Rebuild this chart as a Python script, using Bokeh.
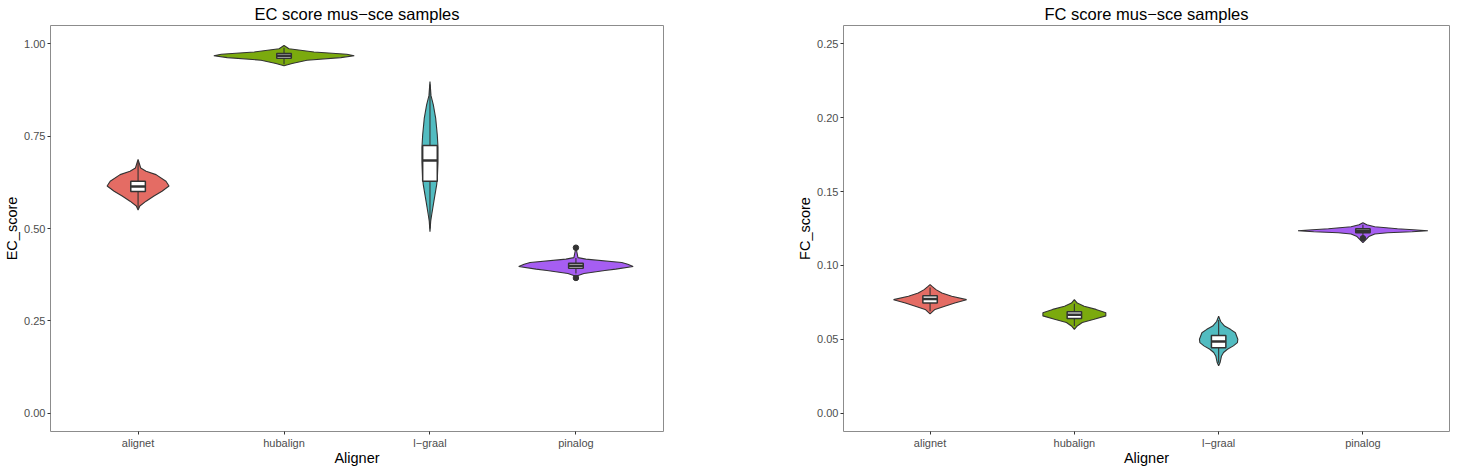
from bokeh.plotting import figure
from bokeh.layouts import row
from bokeh.models import Range1d, FixedTicker, PrintfTickFormatter
from bokeh.embed import file_html
from bokeh.resources import INLINE

# ---------------- data ----------------
categories = ["alignet", "hubalign", "l-graal", "pinalog"]
tick_labels = ["alignet", "hubalign", "l\u2212graal", "pinalog"]
colors = ["#E46C64", "#7BAA0E", "#52BCC1", "#A65EF2"]

# EC score violins: y values and density half-widths (category units)
ec_alignet_y = [0.687, 0.664, 0.655, 0.646, 0.628, 0.615, 0.601, 0.588, 0.574, 0.561, 0.550]
ec_alignet_w = [0.0, 0.018, 0.055, 0.123, 0.191, 0.212, 0.164, 0.109, 0.055, 0.012, 0.0]
ec_hubalign_y = [0.996, 0.987, 0.978, 0.972, 0.968, 0.963, 0.956, 0.947, 0.941]
ec_hubalign_w = [0.0, 0.034, 0.205, 0.430, 0.481, 0.389, 0.157, 0.055, 0.0]
ec_lgraal_y = [0.898, 0.860, 0.835, 0.799, 0.754, 0.720, 0.680, 0.640, 0.619, 0.574, 0.538, 0.520, 0.491]
ec_lgraal_w = [0.0, 0.007, 0.023, 0.039, 0.050, 0.055, 0.055, 0.051, 0.046, 0.027, 0.012, 0.005, 0.0]
ec_pinalog_y = [0.448, 0.435, 0.421, 0.417, 0.408, 0.403, 0.397, 0.390, 0.386, 0.378, 0.372, 0.366]
ec_pinalog_w = [0.0, 0.007, 0.014, 0.068, 0.314, 0.355, 0.392, 0.273, 0.198, 0.055, 0.010, 0.0]

ec_q1 = [0.600, 0.961, 0.628, 0.392]
ec_med = [0.614, 0.968, 0.684, 0.399]
ec_q3 = [0.628, 0.974, 0.725, 0.406]
ec_wlo = [0.555, 0.945, 0.500, 0.378]
ec_whi = [0.680, 0.990, 0.890, 0.420]
ec_out_cat = ["pinalog", "pinalog"]
ec_out_y = [0.448, 0.366]

# FC score violins
fc_alignet_y = [0.0870, 0.0858, 0.0836, 0.0813, 0.0791, 0.0768, 0.0746, 0.0724, 0.0702, 0.0672]
fc_alignet_w = [0.0, 0.014, 0.041, 0.082, 0.150, 0.253, 0.171, 0.102, 0.034, 0.0]
fc_hubalign_y = [0.0768, 0.0745, 0.0724, 0.0702, 0.0680, 0.0658, 0.0635, 0.0613, 0.0590, 0.0567]
fc_hubalign_w = [0.0, 0.020, 0.068, 0.150, 0.218, 0.218, 0.137, 0.055, 0.020, 0.0]
fc_lgraal_y = [0.0656, 0.0620, 0.0589, 0.0567, 0.0544, 0.0500, 0.0477, 0.0455, 0.0432, 0.0410, 0.0387, 0.0342, 0.0320]
fc_lgraal_w = [0.0, 0.014, 0.041, 0.082, 0.116, 0.133, 0.130, 0.102, 0.061, 0.034, 0.020, 0.010, 0.0]
fc_pinalog_y = [0.1289, 0.1275, 0.1262, 0.1248, 0.1240, 0.1235, 0.1228, 0.1221, 0.1213, 0.1195, 0.1154]
fc_pinalog_w = [0.0, 0.027, 0.082, 0.239, 0.375, 0.450, 0.341, 0.171, 0.082, 0.041, 0.0]

fc_q1 = [0.0746, 0.0641, 0.0443, 0.1221]
fc_med = [0.0772, 0.0666, 0.0484, 0.1235]
fc_q3 = [0.0795, 0.0686, 0.0526, 0.1248]
fc_wlo = [0.0690, 0.0590, 0.0340, 0.1195]
fc_whi = [0.0850, 0.0740, 0.0630, 0.1275]
fc_out_cat = ["pinalog"]
fc_out_y = [0.1184]

ec_ticks = [0.0, 0.25, 0.5, 0.75, 1.0]
fc_ticks = [0.0, 0.05, 0.10, 0.15, 0.20, 0.25]

FONT = "Liberation Sans"
DARK = "#333333"


def make_panel(title, ylab, yr, yticks, violins, q1, med, q3, wlo, whi,
               out_cat, out_y, width, bl, br):
    p = figure(width=width, height=468, output_backend="svg", toolbar_location=None,
               x_range=Range1d(0.4, 4.6), y_range=yr,
               min_border_left=bl, min_border_right=br,
               min_border_top=24, min_border_bottom=30)
    p.title.text = title
    p.title.align = "center"
    p.title.text_font = FONT
    p.title.text_font_size = "16.5px"
    p.title.text_font_style = "normal"
    p.title.text_color = "black"
    p.title.offset = 0
    p.title.standoff = 5

    p.grid.visible = False
    p.outline_line_color = "#8C8C8C"
    p.outline_line_width = 1
    p.background_fill_color = "white"
    p.border_fill_color = "white"

    xs = list(range(1, len(categories) + 1))
    p.xaxis.ticker = FixedTicker(ticks=xs)
    p.xaxis.major_label_overrides = {x: lab for x, lab in zip(xs, tick_labels)}
    p.yaxis.ticker = FixedTicker(ticks=yticks)
    p.yaxis.formatter = PrintfTickFormatter(format="%.2f")
    p.xaxis.axis_label = "Aligner"
    p.yaxis.axis_label = ylab
    for ax in (p.xaxis[0], p.yaxis[0]):
        ax.axis_line_color = None
        ax.major_tick_line_color = DARK
        ax.major_tick_out = 3
        ax.major_tick_in = 0
        ax.minor_tick_line_color = None
        ax.major_label_text_font = FONT
        ax.major_label_text_font_size = "11px"
        ax.major_label_text_color = "#4D4D4D"
        ax.major_label_standoff = 2
        ax.axis_label_text_font = FONT
        ax.axis_label_text_font_size = "14.5px"
        ax.axis_label_text_font_style = "normal"
        ax.axis_label_text_color = "black"
    p.xaxis.axis_label_standoff = -2
    p.yaxis.axis_label_standoff = 1

    # violins
    for i, (vy, vw) in enumerate(violins):
        c = xs[i]
        px = [c + w for w in vw] + [c - w for w in reversed(vw)]
        py = list(vy) + list(reversed(vy))
        p.patch(px, py, fill_color=colors[i], line_color=DARK, line_width=1.1)

    # whiskers
    p.segment(x0=xs, y0=wlo, x1=xs, y1=q1, line_color=DARK, line_width=1.1)
    p.segment(x0=xs, y0=q3, x1=xs, y1=whi, line_color=DARK, line_width=1.1)
    # boxes
    bw = 0.05
    p.quad(left=[x - bw for x in xs], right=[x + bw for x in xs], bottom=q1, top=q3,
           fill_color="white", line_color=DARK, line_width=1.5)
    p.segment(x0=[x - bw for x in xs], y0=med, x1=[x + bw for x in xs], y1=med,
              line_color=DARK, line_width=2.5)
    # outliers
    ox = [xs[categories.index(c)] for c in out_cat]
    p.scatter(ox, out_y, size=5.5, fill_color=DARK, line_color=DARK)
    return p


p1 = make_panel("EC score mus\u2212sce samples", "EC_score", Range1d(-0.05, 1.05), ec_ticks,
                [(ec_alignet_y, ec_alignet_w), (ec_hubalign_y, ec_hubalign_w),
                 (ec_lgraal_y, ec_lgraal_w), (ec_pinalog_y, ec_pinalog_w)],
                ec_q1, ec_med, ec_q3, ec_wlo, ec_whi, ec_out_cat, ec_out_y,
                width=787, bl=50, br=124)
p2 = make_panel("FC score mus\u2212sce samples", "FC_score", Range1d(-0.0125, 0.2625), fc_ticks,
                [(fc_alignet_y, fc_alignet_w), (fc_hubalign_y, fc_hubalign_w),
                 (fc_lgraal_y, fc_lgraal_w), (fc_pinalog_y, fc_pinalog_w)],
                fc_q1, fc_med, fc_q3, fc_wlo, fc_whi, fc_out_cat, fc_out_y,
                width=663, bl=56, br=1)

layout = row(p1, p2)
open("out.html", "w").write(file_html(layout, INLINE))
